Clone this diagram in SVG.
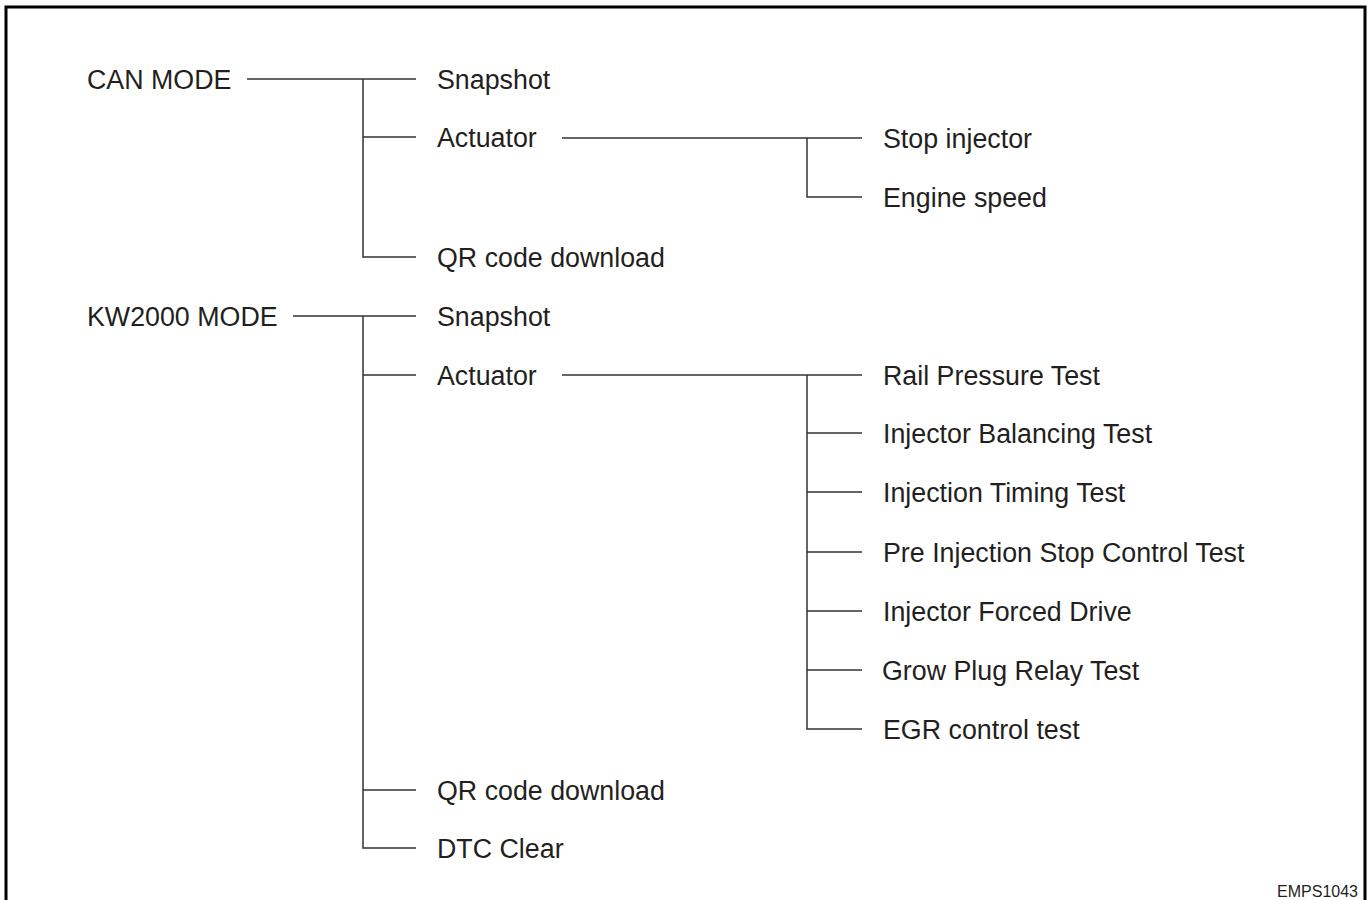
<svg xmlns="http://www.w3.org/2000/svg" width="1370" height="900" viewBox="0 0 1370 900">
<style>
.t{font-family:"Liberation Sans",Arial,sans-serif;font-size:26.8px;fill:#231f20}
.c{stroke:#333;stroke-width:1.5;fill:none}
.f{stroke:#000;stroke-width:3;fill:none}
.s{font-family:"Liberation Sans",Arial,sans-serif;font-size:16px;fill:#231f20}
</style>
<rect x="0" y="0" width="1370" height="900" fill="#fff"/>
<path class="f" d="M6,910 V7 H1365 V910"/>
<g id="connectors">
<path class="c" d="M247,79 H416 M363,79 V257 H416 M363,137 H416"/>
<path class="c" d="M562,138 H862 M807,138 V197 H862"/>
<path class="c" d="M293,316 H416 M363,316 V848 H416 M363,375 H416 M363,790 H416"/>
<path class="c" d="M562,375 H862 M807,375 V729 H862 M807,433 H862 M807,492 H862 M807,552 H862 M807,611 H862 M807,670 H862"/>
</g>
<g id="can-mode"><text class="t" x="87" y="89">CAN MODE</text></g>
<g id="can-snapshot"><text class="t" x="437" y="89">Snapshot</text></g>
<g id="can-actuator"><text class="t" x="437" y="147">Actuator</text></g>
<g id="can-stop-injector"><text class="t" x="883" y="148">Stop injector</text></g>
<g id="can-engine-speed"><text class="t" x="883" y="207">Engine speed</text></g>
<g id="can-qr"><text class="t" x="437" y="267">QR code download</text></g>
<g id="kw-mode"><text class="t" x="87" y="326">KW2000 MODE</text></g>
<g id="kw-snapshot"><text class="t" x="437" y="326">Snapshot</text></g>
<g id="kw-actuator"><text class="t" x="437" y="385">Actuator</text></g>
<g id="kw-rail"><text class="t" x="883" y="385">Rail Pressure Test</text></g>
<g id="kw-balancing"><text class="t" x="883" y="443">Injector Balancing Test</text></g>
<g id="kw-timing"><text class="t" x="883" y="502">Injection Timing Test</text></g>
<g id="kw-pre"><text class="t" x="883" y="562">Pre Injection Stop Control Test</text></g>
<g id="kw-forced"><text class="t" x="883" y="621">Injector Forced Drive</text></g>
<g id="kw-grow"><text class="t" x="882" y="680">Grow Plug Relay Test</text></g>
<g id="kw-egr"><text class="t" x="883" y="739">EGR control test</text></g>
<g id="kw-qr"><text class="t" x="437" y="800">QR code download</text></g>
<g id="kw-dtc"><text class="t" x="437" y="858">DTC Clear</text></g>
<text class="s" x="1358" y="897" text-anchor="end">EMPS1043</text>
</svg>
